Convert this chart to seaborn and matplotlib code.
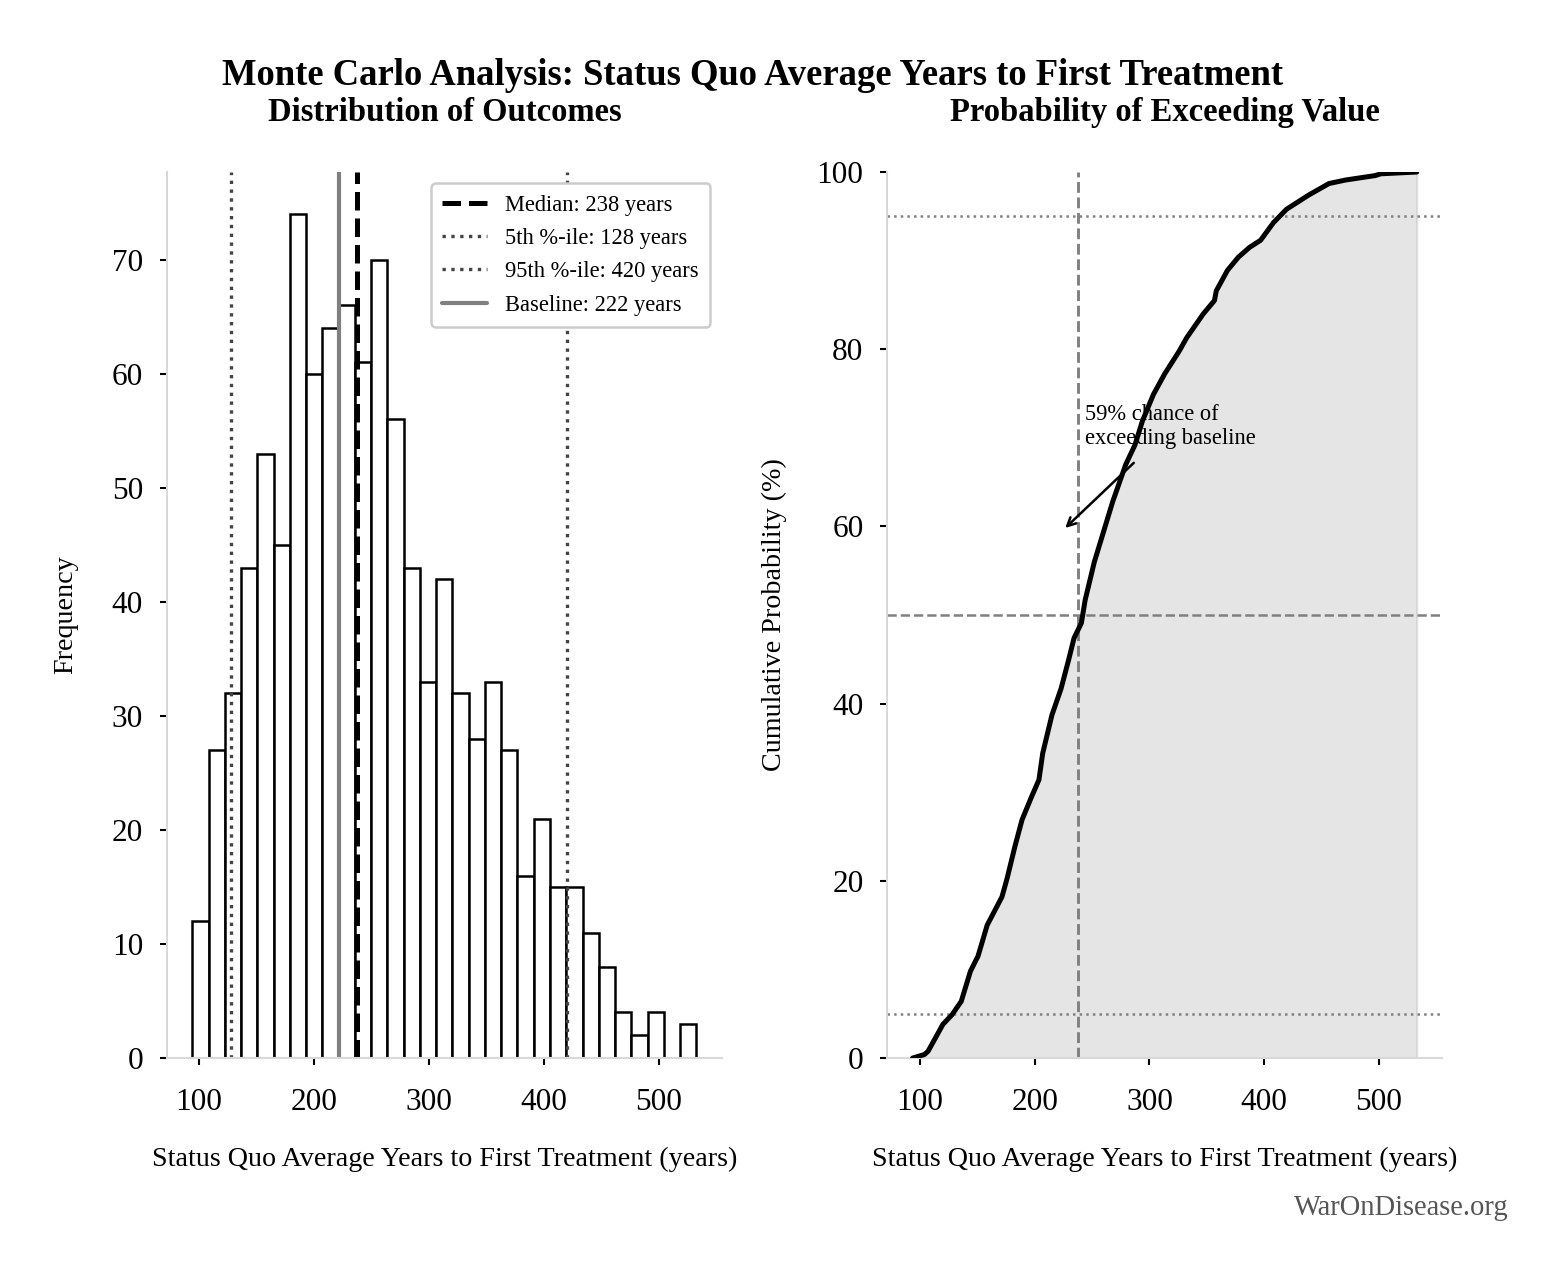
import numpy as np
import pandas as pd
import seaborn as sns
import matplotlib.pyplot as plt

sns.set_style('white')
plt.rcParams['font.family'] = ['Liberation Serif', 'DejaVu Serif']
plt.rcParams['text.color'] = 'black'
plt.rcParams['axes.labelcolor'] = 'black'
plt.rcParams['xtick.color'] = 'black'
plt.rcParams['ytick.color'] = 'black'

# histogram of 1000 simulated outcomes (counts per bin)
bin_start = 94.5
bin_end = 532.7
counts = [12, 27, 32, 43, 53, 45, 74, 60, 64, 66, 61, 70, 56, 43, 33, 42,
          32, 28, 33, 27, 16, 21, 15, 15, 11, 8, 4, 2, 4, 0, 3]

median = 238
p5 = 128
p95 = 420
baseline = 222

# cumulative probability curve
cdf_x = [93.6, 103.9, 107, 120, 128, 136, 144, 150.6, 158.6, 171.5, 176, 182.8,
         189, 197.3, 203.7, 207, 215, 223, 229.5, 234.3, 240.7, 244, 252, 268,
         279.4, 287.4, 293.9, 303.5, 313.2, 326, 332.5, 347, 356.7, 358.3, 368,
         377.6, 387.3, 396.9, 408.2, 419.5, 438.8, 456.5, 471, 496.8, 501.6, 533]
cdf_y = [0, 0.4, 0.75, 3.8, 4.9, 6.4, 9.8, 11.5, 15.0, 18.2, 20.3, 23.9,
         26.9, 29.5, 31.4, 34.4, 38.7, 41.7, 44.9, 47.4, 49.1, 51.7, 56.0, 62.8,
         67.0, 69.2, 71.9, 74.9, 77.2, 79.8, 81.3, 84.0, 85.5, 86.6, 88.9,
         90.4, 91.5, 92.3, 94.3, 95.8, 97.4, 98.7, 99.1, 99.6, 99.8, 100]

exceed_pct = 59
xlabel = 'Status Quo Average Years to First Treatment (years)'

edges = np.linspace(bin_start, bin_end, len(counts) + 1)
hist_df = pd.DataFrame({'x': (edges[:-1] + edges[1:]) / 2, 'n': counts})
cdf_df = pd.DataFrame({'x': cdf_x, 'p': cdf_y})


def _style_axes(ax):
    for side in ['top', 'right']:
        ax.spines[side].set_visible(False)
    for side in ['left', 'bottom']:
        ax.spines[side].set_color('#d9d9d9')
        ax.spines[side].set_linewidth(1.0)
    ax.tick_params(axis='both', which='major', length=3.5, width=1.0,
                   color='black', labelsize=15, pad=8, bottom=True, left=True)
    ax.tick_params(axis='x', pad=11)
    ax.set_xticks([100, 200, 300, 400, 500])


fig, (ax1, ax2) = plt.subplots(1, 2, figsize=(1567 / 150, 1280 / 150), dpi=150)
fig.subplots_adjust(left=0.1066, right=0.9202, top=0.8656, bottom=0.1734, wspace=0.299)

# left: histogram
sns.histplot(data=hist_df, x='x', weights='n', bins=edges.tolist(), ax=ax1,
             color='white', edgecolor='black', linewidth=1.2, alpha=1)
ax1.axvline(median, color='black', linestyle='--', linewidth=2.4,
            label=f'Median: {median} years')
ax1.axvline(p5, color='#444444', linestyle=':', linewidth=1.6,
            label=f'5th %-ile: {p5} years')
ax1.axvline(p95, color='#444444', linestyle=':', linewidth=1.6,
            label=f'95th %-ile: {p95} years')
ax1.axvline(baseline, color='#808080', linestyle='-', linewidth=2.0,
            label=f'Baseline: {baseline} years')
_style_axes(ax1)
ax1.set_xlabel(xlabel, fontsize=13.5, labelpad=14)
ax1.set_ylabel('Frequency', fontsize=13.5, labelpad=16)
ax1.set_title('Distribution of Outcomes', fontsize=15.7, fontweight='bold', pad=24.5)
leg = ax1.legend(loc='upper right', fontsize=10.8, frameon=True, framealpha=1,
                 edgecolor='#cccccc', borderpad=0.5, labelspacing=0.55)
leg.get_frame().set_linewidth(1.2)

# right: cumulative probability
ax2.fill_between(cdf_df['x'], cdf_df['p'], color='gray', alpha=0.2)
sns.lineplot(data=cdf_df, x='x', y='p', ax=ax2, color='black', linewidth=2.4, zorder=4)
ax2.axvline(median, color='#808080', linestyle='--', linewidth=1.4)
ax2.axhline(50, color='#808080', linestyle='--', linewidth=1.2)
ax2.axhline(5, color='#808080', linestyle=':', linewidth=1.2)
ax2.axhline(95, color='#808080', linestyle=':', linewidth=1.2)
ax2.set_ylim(0, 100)
ax2.margins(x=0.05)
_style_axes(ax2)
ax2.set_xlabel(xlabel, fontsize=13.5, labelpad=14)
ax2.set_ylabel('Cumulative Probability (%)', fontsize=13.5, labelpad=14)
ax2.set_title('Probability of Exceeding Value', fontsize=15.7, fontweight='bold', pad=24.5)
ax2.text(244, 71.3, f'{exceed_pct}% chance of\nexceeding baseline', fontsize=10.8,
         ha='left', va='center', zorder=2)
ax2.annotate('', xy=(224, 59.5), xytext=(289, 67.5),
             arrowprops=dict(arrowstyle='->', color='black', lw=1.2), zorder=2)

fig.suptitle('Monte Carlo Analysis: Status Quo Average Years to First Treatment',
             fontsize=17.6, fontweight='bold', x=0.48, y=0.955)
fig.text(0.963, 0.056, 'WarOnDisease.org', fontsize=13.7, color='#555555',
         ha='right', va='center')

fig.savefig('out.png', dpi=150)
